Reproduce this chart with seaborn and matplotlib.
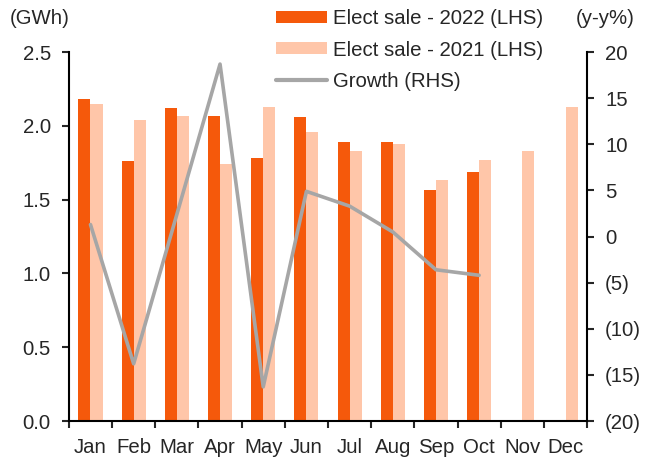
import numpy as np
import pandas as pd
import matplotlib
matplotlib.use("agg")
import matplotlib.pyplot as plt
from matplotlib.patches import Patch
from matplotlib.lines import Line2D
from matplotlib.ticker import FuncFormatter
import seaborn as sns

months = ["Jan", "Feb", "Mar", "Apr", "May", "Jun", "Jul", "Aug", "Sep", "Oct", "Nov", "Dec"]
sale_2022 = [2.18, 1.76, 2.12, 2.07, 1.78, 2.06, 1.89, 1.89, 1.565, 1.69, np.nan, np.nan]
sale_2021 = [2.15, 2.04, 2.07, 1.74, 2.13, 1.96, 1.83, 1.88, 1.63, 1.77, 1.83, 2.13]
growth = [1.3, -13.8, 2.4, 18.7, -16.3, 4.9, 3.3, 0.5, -3.6, -4.2]

lbl_22 = "Elect sale - 2022 (LHS)"
lbl_21 = "Elect sale - 2021 (LHS)"
lbl_g = "Growth (RHS)"
c22, c21, cg = "#F5590B", "#FFC6A9", "#A6A6A6"

df = pd.DataFrame({
    "month": months * 2,
    "value": sale_2022 + sale_2021,
    "series": [lbl_22] * 12 + [lbl_21] * 12,
})

sns.set_style("ticks")
plt.rcParams["font.family"] = ["Liberation Sans", "DejaVu Sans"]
fs = 14.7
plt.rcParams["font.size"] = fs

fig = plt.figure(figsize=(6.56, 4.65), dpi=100)
ax = fig.add_axes([0.105, 0.0946, 0.79, 0.7934])

sns.barplot(data=df, x="month", y="value", hue="series", order=months,
            hue_order=[lbl_22, lbl_21], palette=[c22, c21], width=0.56,
            saturation=1, linewidth=0, gap=0, ax=ax, legend=False)
ax.set_xlim(-0.5, 11.5)
ax.set_ylim(0, 2.5)
ax.set_yticks([0, 0.5, 1.0, 1.5, 2.0, 2.5])
ax.yaxis.set_major_formatter(FuncFormatter(lambda v, p: f"{v:.1f}"))
ax.set_xlabel("")
ax.set_ylabel("")
# ticks between months, labels centred on months
ax.set_xticks(np.arange(-0.5, 12, 1), minor=False)
ax.set_xticklabels([])
ax.set_xticks(np.arange(12), minor=True)
ax.set_xticklabels(months, minor=True)
ax.tick_params(axis="x", which="minor", length=0, pad=12, labelsize=fs)
ax.tick_params(axis="x", which="major", length=5, width=1.5, direction="out")
ax.tick_params(axis="y", length=5, width=1.5, labelsize=fs, pad=8)
for s in ["left", "bottom"]:
    ax.spines[s].set_linewidth(1.5)
    ax.spines[s].set_color("black")
ax.spines["top"].set_visible(False)
ax.spines["right"].set_visible(False)

ax2 = ax.twinx()
sns.lineplot(x=np.arange(len(growth)), y=growth, color=cg, linewidth=2.6, ax=ax2)
ax2.set_ylim(-20, 20)
ax2.set_yticks(range(-20, 21, 5))
ax2.yaxis.set_major_formatter(FuncFormatter(lambda v, p: f"({abs(int(v))})" if v < 0 else f"{int(v)}"))
ax2.tick_params(axis="y", length=5, width=1.5, labelsize=fs, pad=8)
ax2.spines["right"].set_linewidth(1.5)
ax2.spines["right"].set_color("black")
for s in ["top", "left", "bottom"]:
    ax2.spines[s].set_visible(False)
ax2.set_xlim(-0.5, 11.5)

fig.text(0.015, 0.961, "(GWh)", fontsize=fs, va="center", ha="left")
fig.text(0.922, 0.961, "(y-y%)", fontsize=fs, va="center", ha="center")

handles = [Patch(color=c22, linewidth=0), Patch(color=c21, linewidth=0),
           Line2D([], [], color=cg, linewidth=3)]
fig.legend(handles, [lbl_22, lbl_21, lbl_g], loc="upper left",
           bbox_to_anchor=(0.4207, 0.98), frameon=False, fontsize=fs,
           borderpad=0, borderaxespad=0, handlelength=2.5, handleheight=0.54,
           handletextpad=0.3, labelspacing=0.6)

fig.savefig("out.png", dpi=100)
